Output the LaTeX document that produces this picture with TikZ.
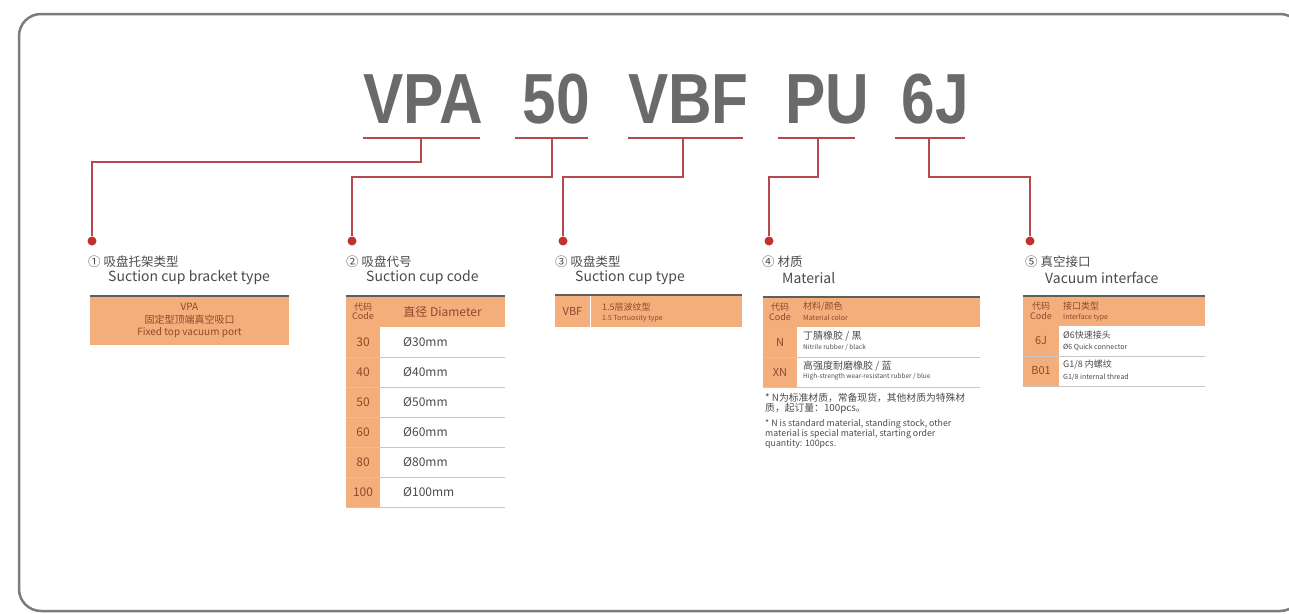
\documentclass[tikz,border=0pt]{standalone}
\usepackage{fontspec}
\setmainfont{Noto Sans CJK SC}
\newfontfamily\codefont{Liberation Sans}[FakeStretch=0.85]
\usepackage{tikz}
\usetikzlibrary{positioning}
\definecolor{frame}{HTML}{7C7C7C}
\definecolor{codegray}{HTML}{6A6A6C}
\definecolor{lead}{HTML}{B5494B}
\definecolor{dotred}{HTML}{C0322E}
\definecolor{peach}{HTML}{F4AE7B}
\definecolor{rule}{HTML}{5E5E5E}
\definecolor{txt}{HTML}{4A4A4A}
\definecolor{celltxt}{HTML}{8A4B2A}
\newcommand\fsz[2]{\fontsize{#1}{#2}\selectfont}

\begin{document}
\begin{tikzpicture}[x=1pt,y=-1pt,
  code/.style={font=\codefont\bfseries\fsz{71}{71},text=codegray,inner sep=0pt,anchor=base},
  leadline/.style={draw=lead,line width=1.5pt},
  tip/.style={circle,fill=dotred,inner sep=0pt,minimum size=9pt},
  heading/.style={anchor=west,inner sep=0pt,text=txt,font=\fsz{12.5}{14}},
  subheading/.style={anchor=west,inner sep=0pt,text=txt,font=\fsz{14}{16}},
  toprule/.style={draw=rule,line width=2.2pt},
  sep/.style={draw=black!22,line width=0.8pt},
  cell/.style={inner sep=0pt,align=center,text=celltxt},
  entry/.style={inner sep=0pt,anchor=west,align=left,text=txt},
  note/.style={inner sep=0pt,align=left,text=txt}]
  \useasboundingbox (0,0) rectangle (1289,613);
  \draw[frame,line width=2.5pt,rounded corners=22pt] (19,14) rectangle (1302,611);

  % part number
  \foreach \i/\w/\x in {1/VPA/423.5,2/50/556.5,3/VBF/688.5,4/PU/827,5/6J/935}
    \node[code] (w\i) at (\x,123) {\w};
  \foreach \i/\a/\b/\m in {1/363/480/421,2/515/588/552,3/628/743/683,4/778/855/818,5/895/965/929}
  {
    \draw[leadline] (\a,138) -- (\b,138);
    \coordinate (u\i) at (\m,138);
  }

  % leaders
  \foreach \i/\x in {1/92,2/352,3/563,4/769,5/1030}
    \node[tip] (d\i) at (\x,241) {};
  \draw[leadline] (u1) -- ++(0,24) -| (d1);
  \foreach \i in {2,...,5}
    \draw[leadline] (u\i) -- ++(0,39) -| (d\i);

  % headings
  \foreach \i/\x/\zh/\en in {
    1/88/{① 吸盘托架类型}/{Suction cup bracket type},
    2/346/{② 吸盘代号}/{Suction cup code},
    3/555/{③ 吸盘类型}/{Suction cup type},
    4/762/{④ 材质}/{Material},
    5/1025/{⑤ 真空接口}/{Vacuum interface}}
  {
    \node[heading] (t\i) at (\x,262) {\zh};
    \node[subheading] (s\i) at (\x+20,278) {\en};
  }

  % 1 bracket
  \node[fill=peach,minimum width=199pt,minimum height=49pt,inner sep=0pt,align=center,
    text=celltxt,font=\fsz{10}{12.5}] (bracket) at (189.5,320.5)
    {VPA\\固定型顶端真空吸口\\Fixed top vacuum port};
  \draw[toprule] (bracket.north west) -- (bracket.north east);

  % 2 code
  \fill[peach] (346,296) rectangle (505,327);
  \fill[peach] (346,327) rectangle (380,507);
  \draw[toprule] (346,296) -- (505,296);
  \node[cell,font=\fsz{9}{9.5}] (codehd) at (363,311.5) {代码\\Code};
  \node[cell,font=\fsz{12}{14}] (diahd) at (442.5,311.5) {直径 Diameter};
  \foreach \r/\cd in {0/30,1/40,2/50,3/60,4/80,5/100}
  {
    \node[cell,font=\fsz{12}{14}] (code\cd) at (363,342+30*\r) {\cd};
    \node[entry,font=\fsz{12}{14}] (dia\cd) at (403,342+30*\r) {Ø\cd mm};
    \draw[sep] (346,357+30*\r) -- (505,357+30*\r);
  }

  % 3 type
  \fill[peach] (555,295) rectangle (742,327);
  \draw[toprule] (555,295) -- (742,295);
  \draw[white,line width=0.8pt] (590,296) -- (590,327);
  \node[cell,font=\fsz{11}{12}] (vbf) at (572.5,311) {VBF};
  \node[entry,text=celltxt,font=\fsz{9}{10}] (vbfzh) at (602,307.5) {1.5层波纹型};
  \node[entry,text=celltxt,font=\fsz{7}{8}] (vbfen) at (602,318.5) {1.5 Tortuosity type};

  % 4 material
  \fill[peach] (763,297) rectangle (980,327);
  \fill[peach] (763,327) rectangle (797,387);
  \draw[toprule] (763,297) -- (980,297);
  \node[cell,font=\fsz{9}{9.5}] (mcodehd) at (780,312) {代码\\Code};
  \node[entry,text=celltxt,font=\fsz{9}{10}] (mhdzh) at (803,307) {材料/颜色};
  \node[entry,text=celltxt,font=\fsz{7}{8}] (mhden) at (803,318) {Material color};
  \foreach \r/\cd/\zh/\en in {
    0/N/{丁腈橡胶 / 黑}/{Nitrile rubber / black},
    1/XN/{高强度耐磨橡胶 / 蓝}/{High-strength wear-resistant rubber / blue}}
  {
    \node[cell,font=\fsz{11}{12}] (mat\cd) at (780,342+30*\r) {\cd};
    \node[entry,font=\fsz{10}{11}] (zh\cd) at (803,336+30*\r) {\zh};
    \node[entry,font=\fsz{6.5}{7}] (en\cd) at (803,347+30*\r) {\en};
    \draw[sep] (763,357+30*\r) -- (980,357+30*\r);
  }
  \node[note,font=\fsz{9.8}{10},anchor=north west] (notezh) at (765,393)
    {* N为标准材质，常备现货，其他材质为特殊材\\质，起订量：100pcs。};
  \node[note,font=\fsz{8.8}{8.8},below=5pt of notezh.south west,anchor=north west] (noteen)
    {* N is standard material, standing stock, other\\material is special material, starting order\\quantity: 100pcs.};

  % 5 interface
  \fill[peach] (1023,296) rectangle (1205,326);
  \fill[peach] (1023,326) rectangle (1059,387);
  \draw[toprule] (1023,296) -- (1205,296);
  \node[cell,font=\fsz{9}{9.5}] (icodehd) at (1041,311) {代码\\Code};
  \node[entry,text=celltxt,font=\fsz{9}{10}] (ihdzh) at (1063,306) {接口类型};
  \node[entry,text=celltxt,font=\fsz{7}{8}] (ihden) at (1063,317) {Interface type};
  \foreach \r/\cd/\zh/\en in {
    0/6J/{Ø6快速接头}/{Ø6 Quick connector},
    1/B01/{G1/8 内螺纹}/{G1/8 internal thread}}
  {
    \node[cell,font=\fsz{11}{12}] (port\cd) at (1041,341+30*\r) {\cd};
    \node[entry,font=\fsz{9}{10}] (pzh\cd) at (1063,335+30*\r) {\zh};
    \node[entry,font=\fsz{7}{8}] (pen\cd) at (1063,347+30*\r) {\en};
    \draw[sep] (1023,356.5+30*\r) -- (1205,356.5+30*\r);
  }
\end{tikzpicture}
\end{document}
